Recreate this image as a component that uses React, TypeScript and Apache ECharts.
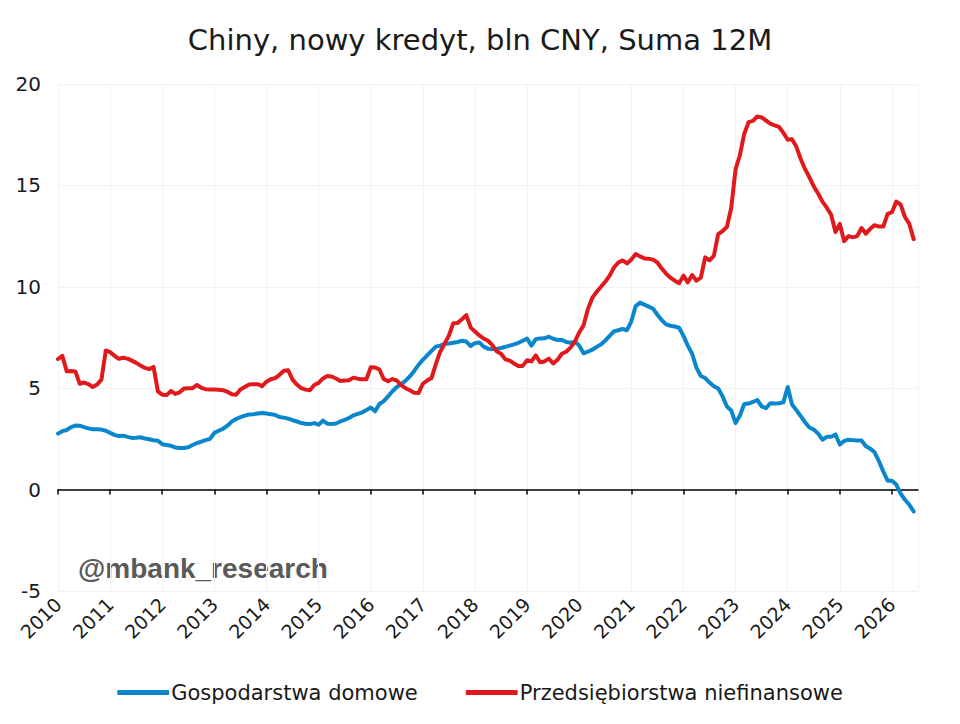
import { useEffect, useRef } from "react";
import * as echarts from "echarts";

// monthly values, Jan 2010 onwards (bln CNY, 12M sum, in thousands)
const START_YEAR = 2010;
const YEARS = [2010, 2011, 2012, 2013, 2014, 2015, 2016, 2017, 2018, 2019, 2020, 2021, 2022, 2023, 2024, 2025, 2026];
const Y_TICKS = [-5, 0, 5, 10, 15, 20];

const households = [
  2.76, 2.88, 2.94, 3.08, 3.16, 3.15, 3.08, 3.02, 2.98, 2.98, 2.96, 2.9,
  2.8, 2.7, 2.64, 2.66, 2.6, 2.55, 2.56, 2.58, 2.52, 2.48, 2.43, 2.41,
  2.24, 2.2, 2.16, 2.08, 2.05, 2.05, 2.09, 2.2, 2.3, 2.36, 2.44, 2.5,
  2.8, 2.9, 3.0, 3.15, 3.35, 3.48, 3.57, 3.65, 3.7, 3.72, 3.75, 3.78,
  3.75, 3.72, 3.68, 3.58, 3.55, 3.5, 3.42, 3.36, 3.28, 3.25, 3.23, 3.28,
  3.2, 3.4, 3.25, 3.24, 3.26, 3.36, 3.44, 3.53, 3.66, 3.73, 3.8, 3.92,
  4.05, 3.86, 4.22, 4.36, 4.6, 4.85, 5.06, 5.2, 5.36, 5.58, 5.85, 6.15,
  6.4, 6.62, 6.84, 7.05, 7.1, 7.18, 7.2, 7.24, 7.28, 7.34, 7.3, 7.08,
  7.22, 7.25, 7.05, 6.95, 6.93, 6.94, 6.98, 7.04, 7.1, 7.16, 7.24, 7.34,
  7.45, 7.1, 7.42, 7.45, 7.46, 7.54, 7.44, 7.38, 7.38, 7.28, 7.24, 7.3,
  7.1, 6.72, 6.8, 6.9, 7.03, 7.16, 7.35, 7.58, 7.8, 7.86, 7.92, 7.86,
  8.3, 9.05, 9.22, 9.12, 9.02, 8.92, 8.62, 8.36, 8.15, 8.08, 8.04, 7.98,
  7.58, 7.1, 6.7, 6.0, 5.6, 5.5, 5.28, 5.1, 4.98, 4.6, 4.1, 3.9,
  3.28, 3.65, 4.22, 4.24, 4.32, 4.42, 4.1, 4.02, 4.26, 4.24, 4.26, 4.3,
  5.06, 4.2, 3.92, 3.62, 3.32, 3.06, 2.96, 2.76, 2.46, 2.6, 2.6, 2.72,
  2.22, 2.4, 2.46, 2.44, 2.42, 2.42, 2.14, 2.02, 1.84, 1.4, 0.9, 0.44,
  0.44, 0.25, -0.2, -0.5, -0.75, -1.08,
];

const corporates = [
  6.44, 6.6, 5.83, 5.85, 5.83, 5.22, 5.28, 5.2, 5.06, 5.18, 5.42, 6.86,
  6.78, 6.6, 6.45, 6.5, 6.46, 6.36, 6.25, 6.12, 6.0, 5.94, 6.05, 4.84,
  4.68, 4.66, 4.86, 4.72, 4.8, 4.98, 5.0, 5.0, 5.16, 5.02, 4.95, 4.93,
  4.94, 4.92, 4.9, 4.82, 4.7, 4.68, 4.94, 5.06, 5.18, 5.2, 5.2, 5.1,
  5.32, 5.44, 5.5, 5.66, 5.86, 5.88, 5.42, 5.18, 5.0, 4.93, 4.9, 5.16,
  5.26, 5.48, 5.6, 5.58, 5.48, 5.36, 5.38, 5.39, 5.52, 5.47, 5.44, 5.44,
  6.03, 6.02, 5.92, 5.45, 5.34, 5.45, 5.38, 5.15, 5.0, 4.9, 4.78, 4.76,
  5.22, 5.38, 5.5, 6.2, 6.8, 7.2, 7.6, 8.2, 8.22, 8.4, 8.6, 8.0,
  7.8, 7.6, 7.45, 7.34, 7.12, 6.82, 6.7, 6.42, 6.36, 6.22, 6.1, 6.1,
  6.38, 6.32, 6.62, 6.28, 6.32, 6.46, 6.22, 6.4, 6.7, 6.8, 7.0, 7.3,
  7.75, 8.1, 8.9, 9.45, 9.75, 10.0, 10.25, 10.55, 10.95, 11.2, 11.3, 11.15,
  11.35, 11.62, 11.5, 11.4, 11.38, 11.34, 11.2, 10.9, 10.65, 10.45, 10.3, 10.18,
  10.55, 10.22, 10.58, 10.3, 10.45, 11.45, 11.3, 11.52, 12.6, 12.75, 12.95, 13.9,
  15.8, 16.5, 17.55, 18.12, 18.18, 18.4, 18.35, 18.2, 18.05, 17.96, 17.88, 17.6,
  17.25, 17.27, 16.9, 16.3, 15.8, 15.4, 14.95, 14.6, 14.2, 13.9, 13.55, 12.7,
  13.1, 12.25, 12.5, 12.44, 12.5, 12.9, 12.62, 12.86, 13.04, 12.97, 12.97, 13.6,
  13.68, 14.2, 14.05, 13.44, 13.1, 12.35,
];

const FONT = "'DejaVu Sans', sans-serif";
const BLUE = "#0a87cc";
const RED = "#e01a1c";

const toPoints = (vals: number[]) => vals.map((v, i) => [START_YEAR + i / 12, v]);

export default function App() {
  const chartRef = useRef<HTMLDivElement>(null);

  useEffect(() => {
    if (!chartRef.current) return;
    const chart = echarts.init(chartRef.current, null, { renderer: "svg" });

    chart.setOption({
      animation: false,
      backgroundColor: "#fff",
      title: {
        text: "Chiny, nowy kredyt, bln CNY, Suma 12M",
        left: "center",
        top: 12,
        textStyle: { fontFamily: FONT, fontSize: 29, fontWeight: "normal", color: "#1a1a1a" },
      },
      legend: {
        top: 669,
        left: "center",
        icon: "roundRect",
        itemWidth: 52,
        itemHeight: 5,
        itemGap: 48,
        textStyle: { fontFamily: FONT, fontSize: 21, color: "#1a1a1a", padding: [0, 0, 0, -3] },
      },
      grid: { left: 50, right: 34, top: 76, bottom: 125, containLabel: false },
      xAxis: [
        {
          type: "value",
          min: 2010,
          max: 2026.5,
          interval: 1,
          position: "bottom",
          axisLine: { show: false, onZero: false },
          axisTick: { show: false },
          axisLabel: {
            customValues: YEARS,
            rotate: 45,
            margin: 10,
            fontFamily: FONT,
            fontSize: 19,
            color: "#1a1a1a",
            formatter: (v: number) => String(v),
          },
          splitLine: { show: true, lineStyle: { color: "#f2f2f2", width: 1 } },
        },
        {
          type: "value",
          min: 2010,
          max: 2026.5,
          interval: 1,
          position: "top",
          axisLine: { show: true, onZero: true, lineStyle: { color: "#000", width: 1.5 } },
          axisTick: { show: true, inside: true, length: 5, customValues: YEARS, lineStyle: { color: "#000", width: 1.5 } },
          axisLabel: { show: false },
          splitLine: { show: false },
        },
      ],
      yAxis: {
        type: "value",
        min: -5,
        max: 20,
        interval: 5,
        axisLine: { show: false },
        axisTick: { show: false },
        axisLabel: {
          customValues: Y_TICKS,
          margin: 17,
          fontFamily: FONT,
          fontSize: 20,
          color: "#1a1a1a",
        },
        splitLine: { show: true, lineStyle: { color: "#f2f2f2", width: 1 } },
      },
      graphic: [
        {
          type: "text",
          left: 70,
          top: 546,
          style: {
            text: "@mbank_research",
            font: "bold 28px 'Liberation Sans', Arial, sans-serif",
            fill: "#5a5a5a",
          },
        },
      ],
      series: [
        {
          name: "Gospodarstwa domowe",
          type: "line",
          xAxisIndex: 0,
          data: toPoints(households),
          showSymbol: false,
          symbol: "none",
          itemStyle: { color: BLUE },
          lineStyle: { color: BLUE, width: 4, join: "round", cap: "round" },
        },
        {
          name: "Przedsiębiorstwa niefinansowe",
          type: "line",
          xAxisIndex: 0,
          data: toPoints(corporates),
          showSymbol: false,
          symbol: "none",
          itemStyle: { color: RED },
          lineStyle: { color: RED, width: 4, join: "round", cap: "round" },
        },
      ],
    });

    return () => {
      chart.dispose();
    };
  }, []);

  return <div ref={chartRef} style={{ width: 944, height: 708 }} />;
}
